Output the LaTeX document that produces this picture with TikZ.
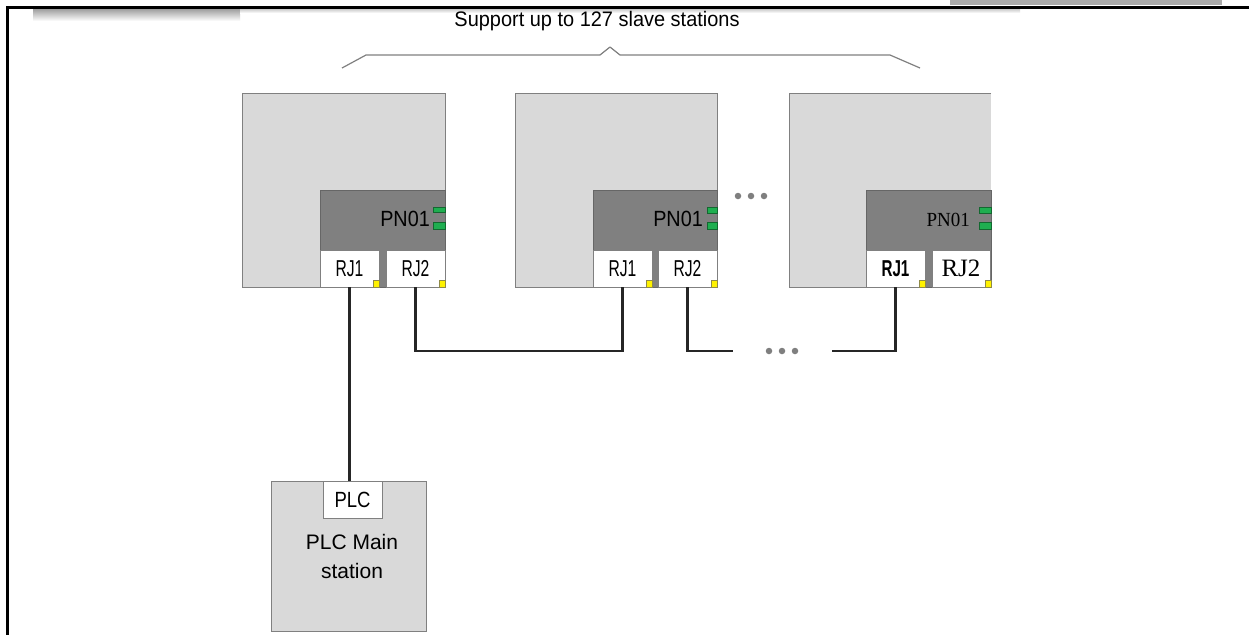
\documentclass[tikz,border=0pt]{standalone}
\usepackage{fontspec}
\setmainfont{Liberation Sans}
\newfontfamily\serifface{Liberation Serif}
\usepackage{graphicx}
\definecolor{boxgray}{HTML}{D9D9D9}
\definecolor{edgegray}{HTML}{808080}
\definecolor{panelgray}{HTML}{808080}
\definecolor{ledgreen}{HTML}{1FAE50}
\definecolor{wirecol}{HTML}{262626}
\definecolor{dotgray}{HTML}{7F7F7F}
\newcommand{\sqz}[2]{\scalebox{#1}[1]{#2}}
\begin{document}
\begin{tikzpicture}[x=1pt,y=-1pt,
  slavebox/.style={fill=boxgray,draw=edgegray,line width=1pt},
  panelbox/.style={fill=panelgray,draw=edgegray!80!black,line width=0.8pt},
  portbox/.style={fill=white,draw=edgegray,line width=0.8pt,inner sep=0pt,outer sep=0pt,
    minimum width=59pt,minimum height=37pt,anchor=north west},
  ledbox/.style={fill=ledgreen,draw=ledgreen!60!black,line width=0.5pt},
  ybox/.style={fill=yellow,draw=yellow!50!black,line width=0.5pt},
  wire/.style={draw=wirecol,line width=2.2pt},
  gdot/.style={circle,fill=dotgray,inner sep=0pt,minimum size=6.5pt},
  brace/.style={draw=gray,line width=1.2pt},
  lbl/.style={inner sep=0pt,font=\fontsize{20}{22}\selectfont},
  rjfont/.style={font=\fontsize{23}{24}\selectfont},
]
\useasboundingbox (0,0) rectangle (1249,635);
\fill[white] (0,0) rectangle (1249,635);
% frame
\fill[gray!65] (950,0) rectangle (1222,5);
\shade[top color=gray!75,bottom color=white] (33,9) rectangle (240,21);
\shade[top color=gray!40,bottom color=white] (240,9) rectangle (1020,13);
\fill[black] (6,6) rectangle (1249,9);
\fill[black] (6,6) rectangle (9,635);
% title
\node[lbl,font=\fontsize{21}{22}\selectfont] (title) at (597,21) {\sqz{0.95}{Support up to 127 slave stations}};
\draw[brace,line join=round] (342,68) -- (366,55) -- (600,55) -- (610,47) -- (620,55) -- (890,55) -- (920,68);
% slave 1
\node[slavebox,inner sep=0pt,minimum width=203pt,minimum height=194pt,anchor=north west] (s1) at (242,93) {};
\path[panelbox] (320,190) rectangle (445,287);
\node[portbox,rjfont] (s1rj1) at (320,250) {\sqz{0.68}{RJ1}};
\node[portbox,rjfont] (s1rj2) at (386,250) {\sqz{0.68}{RJ2}};
\node[lbl,anchor=east,font=\fontsize{22}{24}\selectfont] (s1pn) at (430,219) {\sqz{0.9}{PN01}};
\path[ledbox] (433,207) rectangle (445,212);
\path[ledbox] (433,222) rectangle (445,229);
\path[ybox] (373,280) rectangle (379,287);
\path[ybox] (439,280) rectangle (445,287);
% slave 2
\node[slavebox,inner sep=0pt,minimum width=202pt,minimum height=194pt,anchor=north west] (s2) at (515,93) {};
\path[panelbox] (593,190) rectangle (717,287);
\node[portbox,rjfont] (s2rj1) at (593,250) {\sqz{0.68}{RJ1}};
\node[portbox,rjfont] (s2rj2) at (658,250) {\sqz{0.68}{RJ2}};
\node[lbl,anchor=east,font=\fontsize{22}{24}\selectfont] (s2pn) at (703,219) {\sqz{0.9}{PN01}};
\path[ledbox] (707,207) rectangle (717,213);
\path[ledbox] (707,222) rectangle (717,229);
\path[ybox] (646,280) rectangle (652,287);
\path[ybox] (711,280) rectangle (717,287);
% slave 3 (cut on the right)
\fill[boxgray] (789,93) rectangle (991,287);
\draw[edgegray,line width=1pt] (991,93) -- (789,93) -- (789,287) -- (991,287);
\path[panelbox] (866,190) rectangle (991,287);
\node[portbox,rjfont] (s3rj1) at (866,250) {\bfseries\sqz{0.66}{RJ1}};
\node[portbox,minimum width=58pt] (s3rj2) at (932,250) {\fontsize{25}{26}\selectfont\serifface RJ2};
\node[inner sep=0pt,anchor=east,font=\fontsize{20}{21}\selectfont\serifface] (s3pn) at (970,220) {\sqz{0.95}{PN01}};
\path[ledbox] (979,207) rectangle (991,213);
\path[ledbox] (979,222) rectangle (991,229);
\path[ybox] (919,280) rectangle (925,287);
\path[ybox] (985,280) rectangle (991,287);
% upper dots
\node[gdot] (u1) at (738,196) {};
\node[gdot] (u2) at (751,196) {};
\node[gdot] (u3) at (764,196) {};
% PLC station
\node[slavebox,inner sep=0pt,minimum width=155pt,minimum height=150pt,anchor=north west] (plc) at (271,481) {};
\node[portbox,anchor=north west] (plcport) at (323,481) {\fontsize{22}{23}\selectfont\sqz{0.84}{PLC}};
\node[lbl,align=center,font=\fontsize{21}{29}\selectfont] (plclbl) at (352,556) {PLC Main\\station};
% wires
\draw[wire] (s1rj1.south) -- (s1rj1.south |- plcport.north);
\draw[wire] (s1rj2.south) -- ++(0,64) -| (s2rj1.south);
\coordinate (w3end) at (733,351);
\coordinate (w4start) at (832,351);
\draw[wire] (s2rj2.south) |- (w3end);
\node[gdot] (l1) at (769,351) {};
\node[gdot] (l2) at (782,351) {};
\node[gdot] (l3) at (795,351) {};
\draw[wire] (w4start) -| (s3rj1.south);
\end{tikzpicture}
\end{document}
